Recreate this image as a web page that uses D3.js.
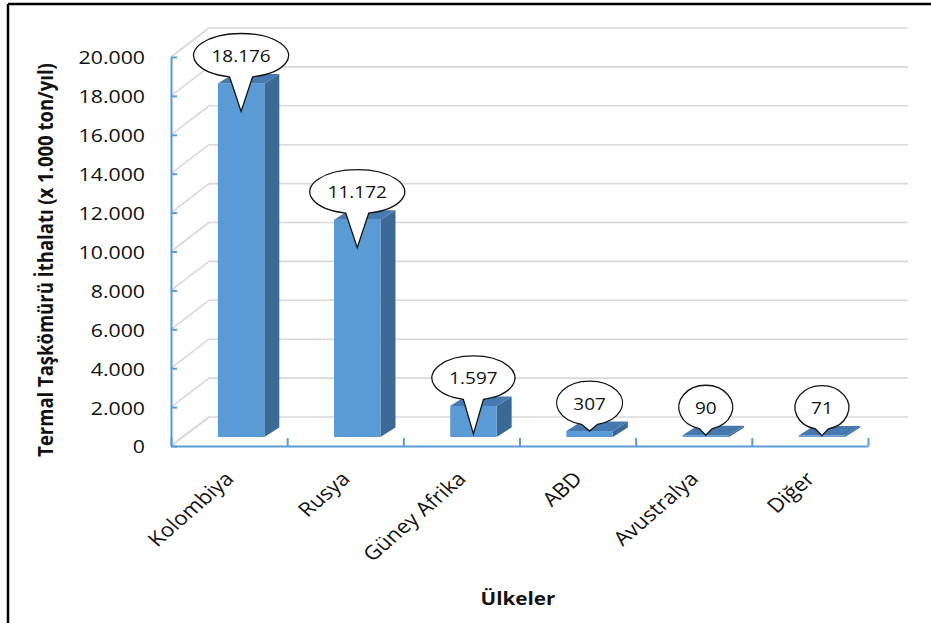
<!DOCTYPE html>
<html>
<head>
<meta charset="utf-8">
<script src="https://cdn.jsdelivr.net/npm/d3@7"></script>
<style>
  html, body { margin: 0; padding: 0; background: #fff; }
  svg { display: block; }
  text { font-family: "Open Sans", "Noto Sans", sans-serif; fill: #111; }
</style>
</head>
<body>
<svg id="chart" width="931" height="623"></svg>
<script>
// Thermal hard-coal imports by origin country (x 1.000 ton / year)
const categories = ["Kolombiya", "Rusya", "Güney Afrika", "ABD", "Avustralya", "Diğer"];
const imports = [18176, 11172, 1597, 307, 90, 71];
const yTicks = [0, 2000, 4000, 6000, 8000, 10000, 12000, 14000, 16000, 18000, 20000];
const yTitle = "Termal Taşkömürü İthalatı (x 1.000 ton/yıl)";
const xTitle = "Ülkeler";

const svg = d3.select("#chart");
const SX = 1.15;                        // horizontal text stretch
const AXIS = "#5B9BD5", GRID = "#d9d9d9";
const FRONT = "#5B9BD5", SIDE = "#3B6A96", TOP = "#4679B0";

const trLocale = d3.formatLocale({ decimal: ",", thousands: ".", grouping: [3], currency: ["", " ₺"] });
const fmt = trLocale.format(",d");

// front plane of the 3D box
const left = 171, right = 868, base = 446, topY = 57;
const wall = { dx: 38, dy: -29 };       // depth of the back wall
const barOff = { dx: 12, dy: -9 };      // bar front plane
const barDepth = { dx: 15, dy: -9.5 };  // bar thickness

const x = d3.scaleBand().domain(categories).range([left, right]).padding(0);
const xIdx = d3.scaleLinear().domain([0, categories.length]).range([left, right]);
const y = d3.scaleLinear().domain([0, 20000]).range([base, topY]);

// outer frame (top and left edges)
svg.append("line").attr("x1", 8).attr("x2", 931).attr("y1", 4).attr("y2", 4)
  .attr("stroke", "#000").attr("stroke-width", 2.5);
svg.append("line").attr("x1", 8).attr("x2", 8).attr("y1", 4).attr("y2", 623)
  .attr("stroke", "#000").attr("stroke-width", 2.5);

// back-wall gridlines and side-wall diagonals
const grid = svg.append("g").attr("stroke", GRID).attr("stroke-width", 1.6).attr("fill", "none");
yTicks.forEach(t => {
  grid.append("line")
    .attr("x1", left + wall.dx).attr("x2", right + wall.dx + 2)
    .attr("y1", y(t) + wall.dy).attr("y2", y(t) + wall.dy);
  grid.append("line")
    .attr("x1", left).attr("y1", y(t))
    .attr("x2", left + wall.dx).attr("y2", y(t) + wall.dy);
});

// bars (front, side and top faces)
const bw = x.bandwidth() * 0.4;
const bars = svg.append("g");
categories.forEach((c, i) => {
  const v = imports[i];
  const x0 = x(c) + (x.bandwidth() - bw) / 2 + barOff.dx;
  const x1 = x0 + bw;
  const yb = y(0) + barOff.dy;
  const yt = y(v) + barOff.dy;
  const g = bars.append("g");
  g.append("path")
    .attr("d", `M${x1},${yt}L${x1 + barDepth.dx},${yt + barDepth.dy}L${x1 + barDepth.dx},${yb + barDepth.dy}L${x1},${yb}Z`)
    .attr("fill", SIDE);
  g.append("rect").attr("x", x0).attr("y", yt).attr("width", bw).attr("height", Math.max(yb - yt, 0))
    .attr("fill", FRONT);
  g.append("path")
    .attr("d", `M${x0},${yt}L${x1},${yt}L${x1 + barDepth.dx},${yt + barDepth.dy}L${x0 + barDepth.dx},${yt + barDepth.dy}Z`)
    .attr("fill", TOP);
});

// y axis: ticks point inward, labels on the left
const yAxis = svg.append("g").attr("transform", `translate(${left},0)`)
  .call(d3.axisLeft(y).tickValues(yTicks).tickFormat(fmt).tickSizeInner(-6).tickSizeOuter(0).tickPadding(26));
yAxis.selectAll("path, line").attr("stroke", AXIS).attr("stroke-width", 2);
yAxis.selectAll("text")
  .attr("font-size", 18.5)
  .attr("fill", "#111")
  .attr("x", null).attr("dy", null)
  .attr("text-anchor", "end")
  .attr("dominant-baseline", "central")
  .attr("transform", d => `translate(-26,0) scale(${SX},1)`);

// x axis: category boundary ticks pointing upward
const xAxis = svg.append("g").attr("transform", `translate(0,${base})`)
  .call(d3.axisBottom(xIdx).tickValues(d3.range(categories.length + 1)).tickFormat("").tickSizeInner(-8).tickSizeOuter(0));
xAxis.selectAll("path, line").attr("stroke", AXIS).attr("stroke-width", 2);

// floor edge on the left side
svg.append("line").attr("x1", left + 2).attr("y1", base - 2)
  .attr("x2", left + wall.dx).attr("y2", base + wall.dy)
  .attr("stroke", GRID).attr("stroke-width", 1.6);

// category labels
svg.append("g").selectAll("text").data(categories).join("text")
  .attr("transform", d => `translate(${x(d) + x.bandwidth() / 2 + 6},${480}) scale(${SX},1) rotate(-45)`)
  .attr("text-anchor", "end")
  .attr("font-size", 19.5)
  .text(d => d);

// axis titles
svg.append("text")
  .attr("transform", `translate(53,260) scale(${SX},1) rotate(-90)`)
  .attr("text-anchor", "middle")
  .attr("font-size", 18.5).attr("font-weight", "bold")
  .text(yTitle);
svg.append("text")
  .attr("transform", `translate(518,605) scale(${SX},1)`)
  .attr("text-anchor", "middle")
  .attr("font-size", 18).attr("font-weight", "bold")
  .text(xTitle);

// callout data labels
const callouts = svg.append("g");
categories.forEach((c, i) => {
  const v = imports[i];
  const cx = x(c) + x.bandwidth() / 2 + barOff.dx;
  const yt = y(v) + barOff.dy;
  const h = y(0) - y(v);
  const tipY = yt + (h > 28 ? 28 : 0);
  const cy = yt - 28;
  const g = callouts.append("g");
  const path = g.append("path").attr("fill", "#fff").attr("stroke", "#111").attr("stroke-width", 1.3);
  const t = g.append("text")
    .attr("transform", `translate(${cx},${cy}) scale(${SX},1)`)
    .attr("text-anchor", "middle").attr("dominant-baseline", "central")
    .attr("font-size", 16.5)
    .text(fmt(v));
  const tw = t.node().getComputedTextLength() * SX;
  const rx = tw * 0.55 + 15, ry = 22;
  const a = 14 * Math.PI / 180;
  const bx = rx * Math.sin(a), by = ry * Math.cos(a);
  path.attr("d",
    `M${cx + bx},${cy + by}A${rx},${ry} 0 1 0 ${cx - bx},${cy + by}L${cx},${tipY}Z`);
});
</script>
</body>
</html>
